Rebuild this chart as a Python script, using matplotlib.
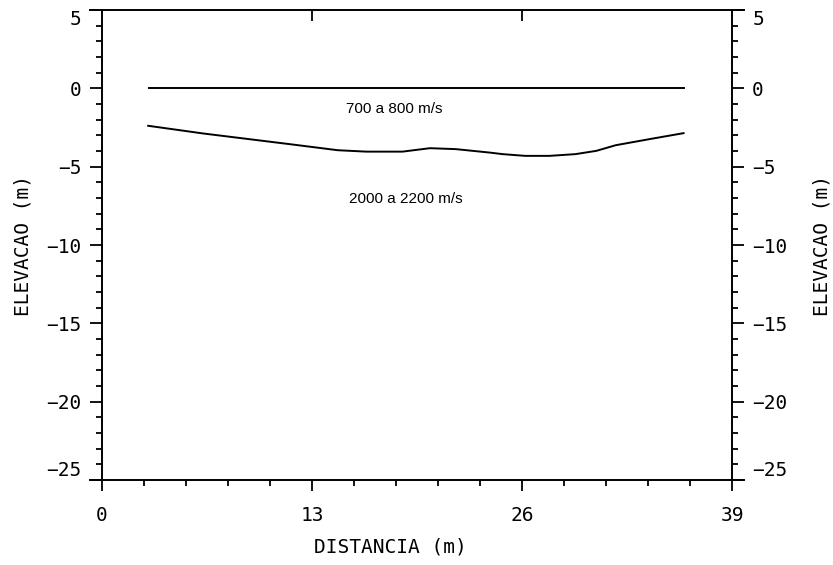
import matplotlib
matplotlib.use("Agg")
import matplotlib.pyplot as plt
from matplotlib.ticker import MultipleLocator, FixedLocator

# Interfaces
top_x = [2.9, 36.0]
top_y = [0.0, 0.0]

base_x = [2.86, 6.26, 11.6, 14.6, 16.36, 18.6, 20.3, 21.9, 24.0, 24.8,
          26.2, 27.7, 29.3, 30.6, 31.8, 33.9, 36.0]
base_y = [-2.39, -2.88, -3.56, -3.95, -4.04, -4.04, -3.82, -3.88, -4.1, -4.2,
          -4.31, -4.31, -4.2, -3.99, -3.63, -3.24, -2.86]

layer_labels = ["700 a 800 m/s", "2000 a 2200 m/s"]
layer_label_x = [18.1, 18.8]
layer_label_y = [-1.35, -7.05]

x_ticks = [0, 13, 26, 39]
y_ticks = [-25, -20, -15, -10, -5, 0, 5]

mono = "DejaVu Sans Mono"
fs = 14

fig = plt.figure(figsize=(8.33, 5.65), dpi=100)
ax = fig.add_axes([0.1224, 0.1504, 0.7564, 0.8319])

ax.plot(top_x, top_y, color="black", lw=1.4)
ax.plot(base_x, base_y, color="black", lw=1.4)
for txt, tx, ty in zip(layer_labels, layer_label_x, layer_label_y):
    ax.text(tx, ty, txt, ha="center", va="center", fontsize=11,
            family="Liberation Sans")

ax.set_xlim(0, 39)
ax.set_ylim(-25, 5)

for s in ax.spines.values():
    s.set_linewidth(1.4)
ax.spines["bottom"].set_bounds(-0.75, 39.75)
ax.spines["top"].set_bounds(-0.75, 39.75)

ax.xaxis.set_major_locator(FixedLocator(x_ticks))
ax.xaxis.set_minor_locator(MultipleLocator(2.6))
ax.yaxis.set_major_locator(FixedLocator(y_ticks))
ax.yaxis.set_minor_locator(MultipleLocator(1))

ax.tick_params(axis="x", which="both", direction="out", top=False, width=1.3)
ax.tick_params(axis="x", which="major", length=8, pad=11, labelsize=fs)
ax.tick_params(axis="x", which="minor", length=4.5)
ax.tick_params(axis="y", which="both", direction="out", left=True, right=True,
               labelleft=True, labelright=True, width=1.3)
ax.tick_params(axis="y", which="major", length=8.5, pad=6, labelsize=fs)
ax.tick_params(axis="y", which="minor", length=4.5)

for lab in ax.get_xticklabels() + ax.get_yticklabels():
    lab.set_family(mono)
for t in ax.yaxis.get_major_ticks():
    t.label2.set_family(mono)

ticks = ax.yaxis.get_major_ticks()
for t in ticks:
    if t.get_loc() == 5:
        t.label1.set_va("top")
        t.label2.set_va("top")
    if t.get_loc() == -25:
        t.label1.set_va("bottom")
        t.label2.set_va("bottom")

# top ticks point inwards, only at the inner major positions
sec = ax.secondary_xaxis("top")
sec.set_xticks([13, 26])
sec.tick_params(direction="in", length=8, width=1.3, labeltop=False)
sec.spines["top"].set_visible(False)

ax.set_xlabel("DISTANCIA (m)", family=mono, fontsize=fs)
ax.xaxis.set_label_coords(0.458, -0.123)
ax.set_ylabel("ELEVACAO (m)", family=mono, fontsize=fs)
ax.yaxis.set_label_coords(-0.11, 0.5)
fig.text(0.987, 0.5 * (0.1504 + 0.9823), "ELEVACAO (m)", rotation=90,
         ha="center", va="center", family=mono, fontsize=fs)

fig.savefig("out.png", dpi=100)
